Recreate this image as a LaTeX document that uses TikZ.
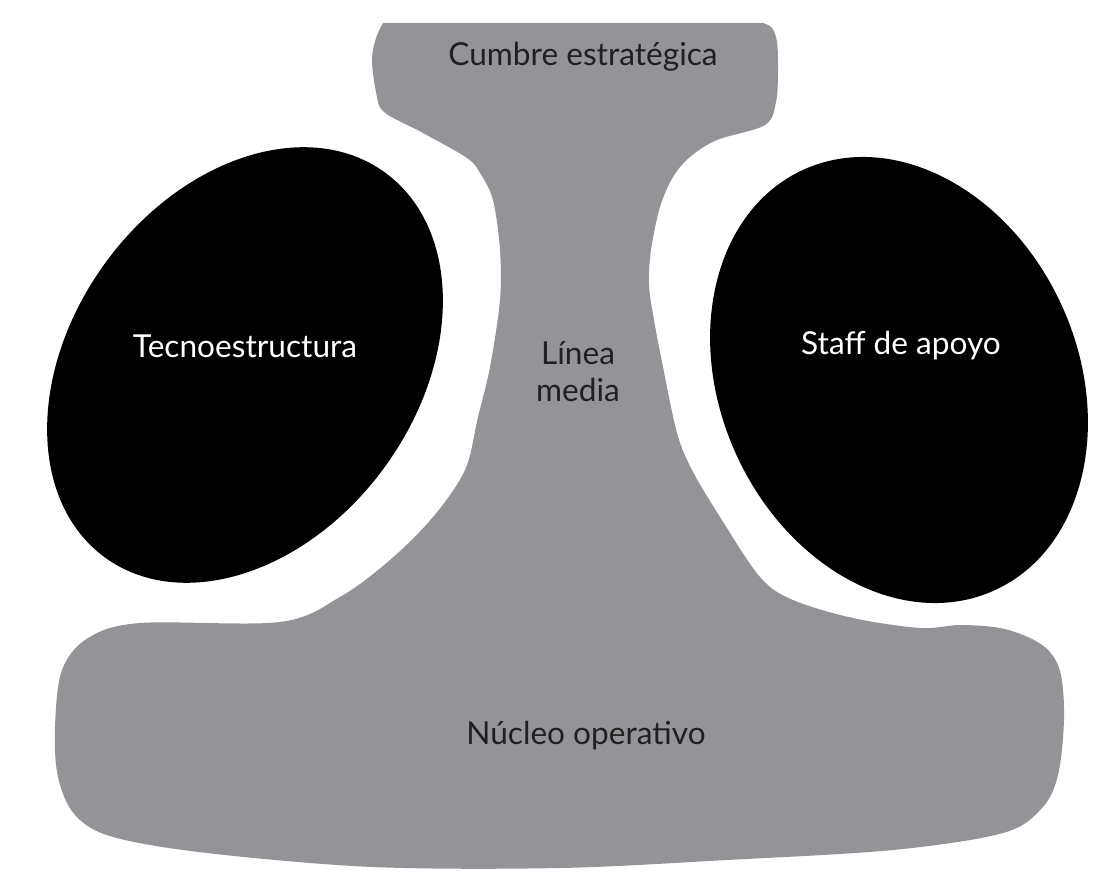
\documentclass[tikz,border=0pt]{standalone}
\usepackage{fontspec}
\setmainfont{Lato}
\usepackage{tikz}
\usetikzlibrary{positioning}
\definecolor{region}{HTML}{939398}
\definecolor{ink}{HTML}{231F20}

\begin{document}
\begin{tikzpicture}[x=0.02cm, y=-0.02cm, every node/.style={font=\fontsize{18}{21}\selectfont, align=center}]
  \useasboundingbox (0,0) rectangle (1108,895);

  % Grey body: apex, middle line and operating core
  \fill[region] (383,23) -- (763,23) -- plot[smooth, tension=0.55] coordinates {
    (763,23) (772,28) (777,42) (778,70) (776,102) (765,125)
    (717,140) (690,157) (673,177) (660,207) (651,250) (649,285) (654,320)
    (663,367) (677,433) (692,470) (720,517) (760,577) (793,600) (853,618)
    (920,628) (960,625) (1000,628) (1030,638) (1050,652) (1061,675)
    (1064,720) (1058,775) (1042,808) (1003,833) (893,850) (727,860)
    (560,868) (373,867) (207,853) (113,837) (75,815) (58,777) (55,727)
    (62,670) (88,638) (140,623) (280,622) (340,597) (390,560) (433,517)
    (465,470) (478,417) (490,367) (500,300) (500,250) (493,200) (480,173)
    (467,158) (423,133) (384,112) (376,92) (372,60) (376,38) (383,23)} -- cycle;

  % Side units
  \fill[black, rotate around={54:(245,365)}] (245,365) ellipse [x radius=238, y radius=173];
  \fill[black, rotate around={-65.6:(899,380)}] (899,380) ellipse [x radius=231, y radius=179];

  % Labels
  \node[ink] (apex) at (583,57) {Cumbre estratégica};
  \node[ink] (midline) at (578,372) {Línea\\media};
  \node[ink] (core) at (586,736) {Núcleo operativo};
  \node[white] (techno) at (245,346) {Tecnoestructura};
  \node[white] (staff) at (901,346) {Staff de apoyo};
\end{tikzpicture}
\end{document}
